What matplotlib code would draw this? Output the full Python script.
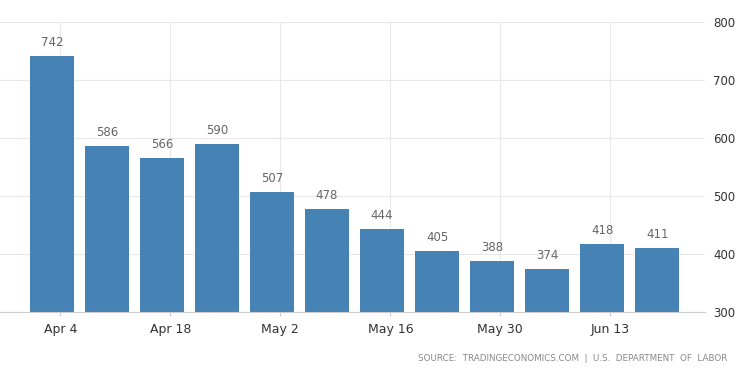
import numpy as np
import matplotlib.pyplot as plt

# weekly initial claims (thousands)
claims = [742, 586, 566, 590, 507, 478, 444, 405, 388, 374, 418, 411]
tick_labels = ['Apr 4', 'Apr 18', 'May 2', 'May 16', 'May 30', 'Jun 13']
y_ticks = [300, 400, 500, 600, 700, 800]

bar_color = '#4682b4'
grid_color = '#e8e8e8'

fig = plt.figure(figsize=(7.5, 3.75), dpi=100)
ax = fig.add_axes([0.0, 0.168, 0.94, 0.773])

x = np.arange(len(claims))
bars = ax.bar(x, claims, width=0.8, color=bar_color, zorder=2)

for xi, v in zip(x, claims):
    ax.text(xi, v + 12, str(v), ha='center', va='bottom', fontsize=8.5, color='#666666')

ax.set_ylim(300, 800)
ax.set_xlim(-0.945, 11.87)
ax.set_yticks(y_ticks)
ax.yaxis.tick_right()
ax.tick_params(axis='y', length=0, pad=6, labelsize=8.5, labelcolor='#333333')

tick_pos = x[::2] + 0.15
ax.set_xticks(tick_pos)
ax.set_xticklabels(tick_labels)
ax.tick_params(axis='x', length=3, color='#cccccc', pad=5, labelsize=9, labelcolor='#333333')

ax.grid(True, color=grid_color, linewidth=0.8, zorder=0)
for s in ['top', 'left', 'right']:
    ax.spines[s].set_visible(False)
ax.spines['bottom'].set_color('#cccccc')
ax.spines['bottom'].set_linewidth(0.8)

fig.text(0.97, 0.045, 'SOURCE:  TRADINGECONOMICS.COM  |  U.S.  DEPARTMENT  OF  LABOR',
         ha='right', va='center', fontsize=6.3, color='#888888')

fig.savefig('out.png', dpi=100, facecolor='white')
